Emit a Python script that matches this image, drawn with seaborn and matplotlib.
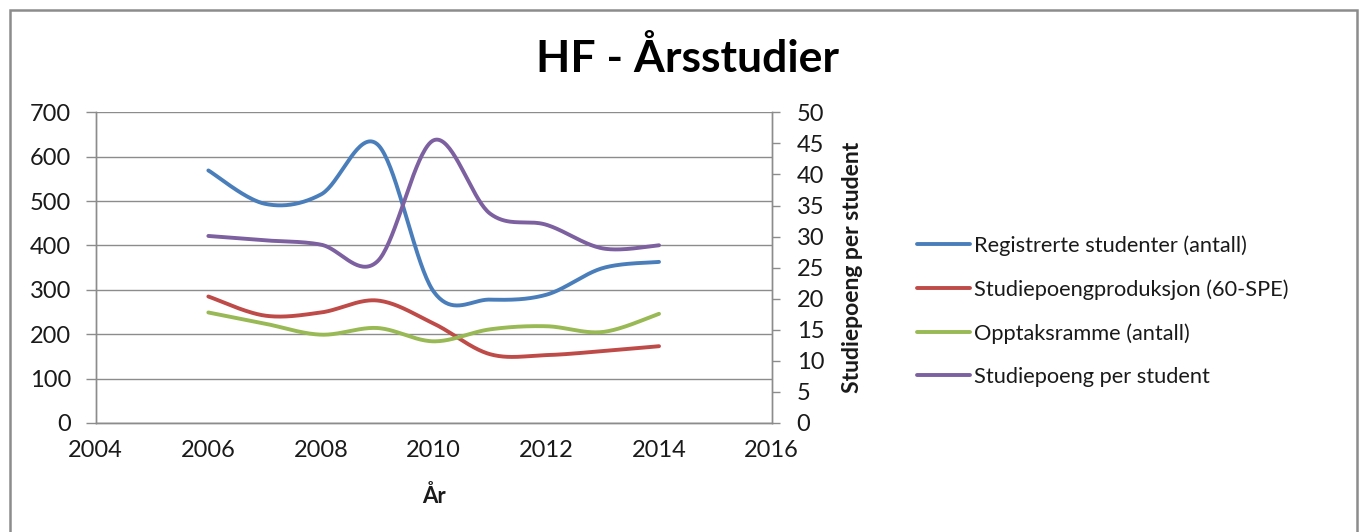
"""HF - Årsstudier: students, credits and intake with credits per student on a twin axis."""

import matplotlib

matplotlib.use("Agg")

import matplotlib.pyplot as plt
import numpy as np
import seaborn as sns
from matplotlib.patches import Rectangle

YEARS = [2006, 2007, 2008, 2009, 2010, 2011, 2012, 2013, 2014]
REGISTERED = [569, 494, 515, 628, 296, 278, 289, 349, 363]
CREDIT_PRODUCTION = [285, 242, 249, 276, 224, 155, 153, 162, 173]
INTAKE = [249, 224, 199, 214, 184, 211, 218, 205, 246]
CREDITS_PER_STUDENT = [30.1, 29.4, 28.7, 26.0, 45.5, 33.7, 31.9, 28.1, 28.6]

LABELS = [
    "Registrerte studenter (antall)",
    "Studiepoengproduksjon (60-SPE)",
    "Opptaksramme (antall)",
    "Studiepoeng per student",
]
COLORS = ["#4A7EBB", "#BE4B48", "#98B954", "#7D60A0"]
GRID = "#8C8C8C"
TEXT = "#1A1A1A"


def smooth(x, y, steps=40):
    """Excel-style smoothed line: cubic Bezier segments through every reading."""
    p = np.column_stack([x, y]).astype(float)
    padded = np.vstack([p[:1], p, p[-1:]])
    out = [p[:1]]
    t = np.linspace(0, 1, steps)[1:, None]
    for i in range(len(p) - 1):
        p0, p1 = padded[i + 1], padded[i + 2]
        c1 = p0 + (padded[i + 2] - padded[i]) / 6
        c2 = p1 - (padded[i + 3] - padded[i + 1]) / 6
        seg = (1 - t) ** 3 * p0 + 3 * (1 - t) ** 2 * t * c1 + 3 * (1 - t) * t**2 * c2 + t**3 * p1
        out.append(seg)
    curve = np.vstack(out)
    return curve[:, 0], curve[:, 1]


sns.set_theme(style="white")
plt.rcParams["font.family"] = ["Lato", "DejaVu Sans"]

fig = plt.figure(figsize=(13.61, 5.32), dpi=100)
ax = fig.add_axes([0.0703, 0.2049, 0.4967, 0.584])
ax2 = ax.twinx()

for values, label, color in zip(
    [REGISTERED, CREDIT_PRODUCTION, INTAKE], LABELS[:3], COLORS[:3], strict=True
):
    sx, sy = smooth(YEARS, values)
    sns.lineplot(x=sx, y=sy, ax=ax, color=color, linewidth=2.8, label=label, sort=False)

sx, sy = smooth(YEARS, CREDITS_PER_STUDENT)
sns.lineplot(x=sx, y=sy, ax=ax2, color=COLORS[3], linewidth=2.8, label=LABELS[3], sort=False)

ax.set_xlim(2004, 2016)
ax.set_ylim(0, 700)
ax2.set_ylim(0, 50)
ax.set_xticks(range(2004, 2017, 2))
ax.set_yticks(range(0, 701, 100))
ax2.set_yticks(range(0, 51, 5))
ax.yaxis.grid(True, color=GRID, linewidth=1)
ax.set_axisbelow(True)

for a in (ax, ax2):
    a.spines["top"].set_visible(False)
    for side in ("left", "right", "bottom"):
        a.spines[side].set_color(GRID)
        a.spines[side].set_linewidth(1)
    a.tick_params(labelsize=17, colors=GRID, labelcolor=TEXT, width=1)
ax.tick_params(axis="x", direction="out", length=6, pad=6.5)
ax.tick_params(axis="y", direction="out", length=7, pad=10.5)
ax2.tick_params(axis="y", direction="out", length=6, pad=12)

ax.set_xlabel("År", fontsize=16, fontweight="bold", color=TEXT, labelpad=17)
ax.set_ylabel("")
ax2.set_ylabel("Studiepoeng per student", fontsize=16.5, fontweight="bold", color=TEXT, labelpad=13)

handles, labels = [], []
for a in (ax, ax2):
    h, l = a.get_legend_handles_labels()
    handles += h
    labels += l
    a.get_legend().remove()
fig.legend(
    handles,
    labels,
    loc="center left",
    bbox_to_anchor=(0.659, 0.415),
    frameon=False,
    fontsize=15.7,
    handlelength=2.45,
    handletextpad=0.2,
    labelspacing=1.07,
    labelcolor=TEXT,
)

fig.text(0.505, 0.891, "HF - Årsstudier", ha="center", va="center",
         fontsize=32, fontweight="bold", color="#000000")

fig.add_artist(Rectangle((0.0073, -0.02), 0.99, 1.001, transform=fig.transFigure,
                         fill=False, edgecolor="#8C8C8C", linewidth=1.8))

fig.savefig("out.png", dpi=100)
